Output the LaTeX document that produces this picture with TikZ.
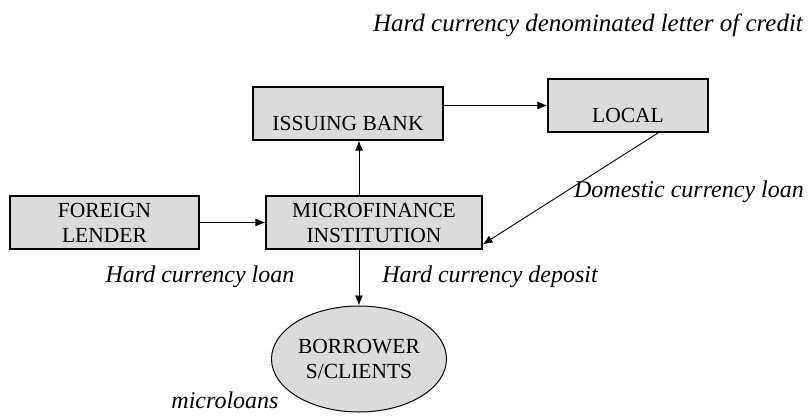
\documentclass[tikz,border=0pt]{standalone}
\usepackage{fontspec}
\setmainfont{Liberation Serif}
\usetikzlibrary{arrows.meta,calc,shapes.geometric}

\tikzset{
  entity/.style={draw=black, line width=1.1pt, fill=black!14, minimum width=190pt,
    minimum height=53pt, inner sep=0pt, align=center, font=\fontsize{21.5}{25}\selectfont},
  roundentity/.style={ellipse, draw=black, line width=1pt, fill=black!14, minimum width=175pt,
    minimum height=106pt, inner sep=0pt, align=center, font=\fontsize{21.5}{25}\selectfont},
  lowtext/.style={font=\fontsize{21.5}{25}\selectfont, inner sep=0pt},
  flowlabel/.style={font=\fontsize{24}{28}\selectfont\itshape, inner sep=0pt},
  flow/.style={draw=black, line width=0.9pt, -{Latex[length=10pt,width=8pt]}},
}

\begin{document}
\begin{tikzpicture}[x=1pt,y=-1pt]
  \useasboundingbox (0,0) rectangle (810,418);

  % institutions
  \node[entity, minimum width=190pt,
        label={[lowtext, yshift=-10pt]center:ISSUING BANK}] (issuing) at (348,113.5) {};
  \node[entity, minimum width=160pt,
        label={[lowtext, yshift=-10pt]center:LOCAL}] (local) at (628,105.5) {};
  \node[entity, minimum width=189pt] (foreign) at (104.5,222.5) {FOREIGN\\LENDER};
  \node[entity, minimum width=216pt] (micro) at (374,222.5) {MICROFINANCE\\INSTITUTION};
  \node[roundentity] (borrower) at (359,359) {BORROWER\\S/CLIENTS};

  % flows between them
  \draw[flow] (micro.north -| borrower.center) -- (issuing.south -| borrower.center);
  \draw[flow] (issuing.east |- local.west) -- (local.west);
  \draw[flow] (foreign.east) -- (micro.west);
  \coordinate (localout) at ($(local.south east)!0.31!(local.south west)$);
  \draw[flow] (localout) -- ($(micro.south east)+(0,-5)$);
  \draw[flow] (micro.south -| borrower.center) -- (borrower.north);

  % flow descriptions
  \node[flowlabel, font=\fontsize{25}{29}\selectfont\itshape] (lcredit) at (588,25)
    {Hard currency denominated letter of credit};
  \node[flowlabel] (ldomestic) at (689,192) {Domestic currency loan};
  \node[flowlabel] (lhardloan) at (200,277) {Hard currency loan};
  \node[flowlabel] (ldeposit) at (490,277) {Hard currency deposit};
  \node[flowlabel] (lmicro) at (225,400) {microloans};
\end{tikzpicture}
\end{document}
